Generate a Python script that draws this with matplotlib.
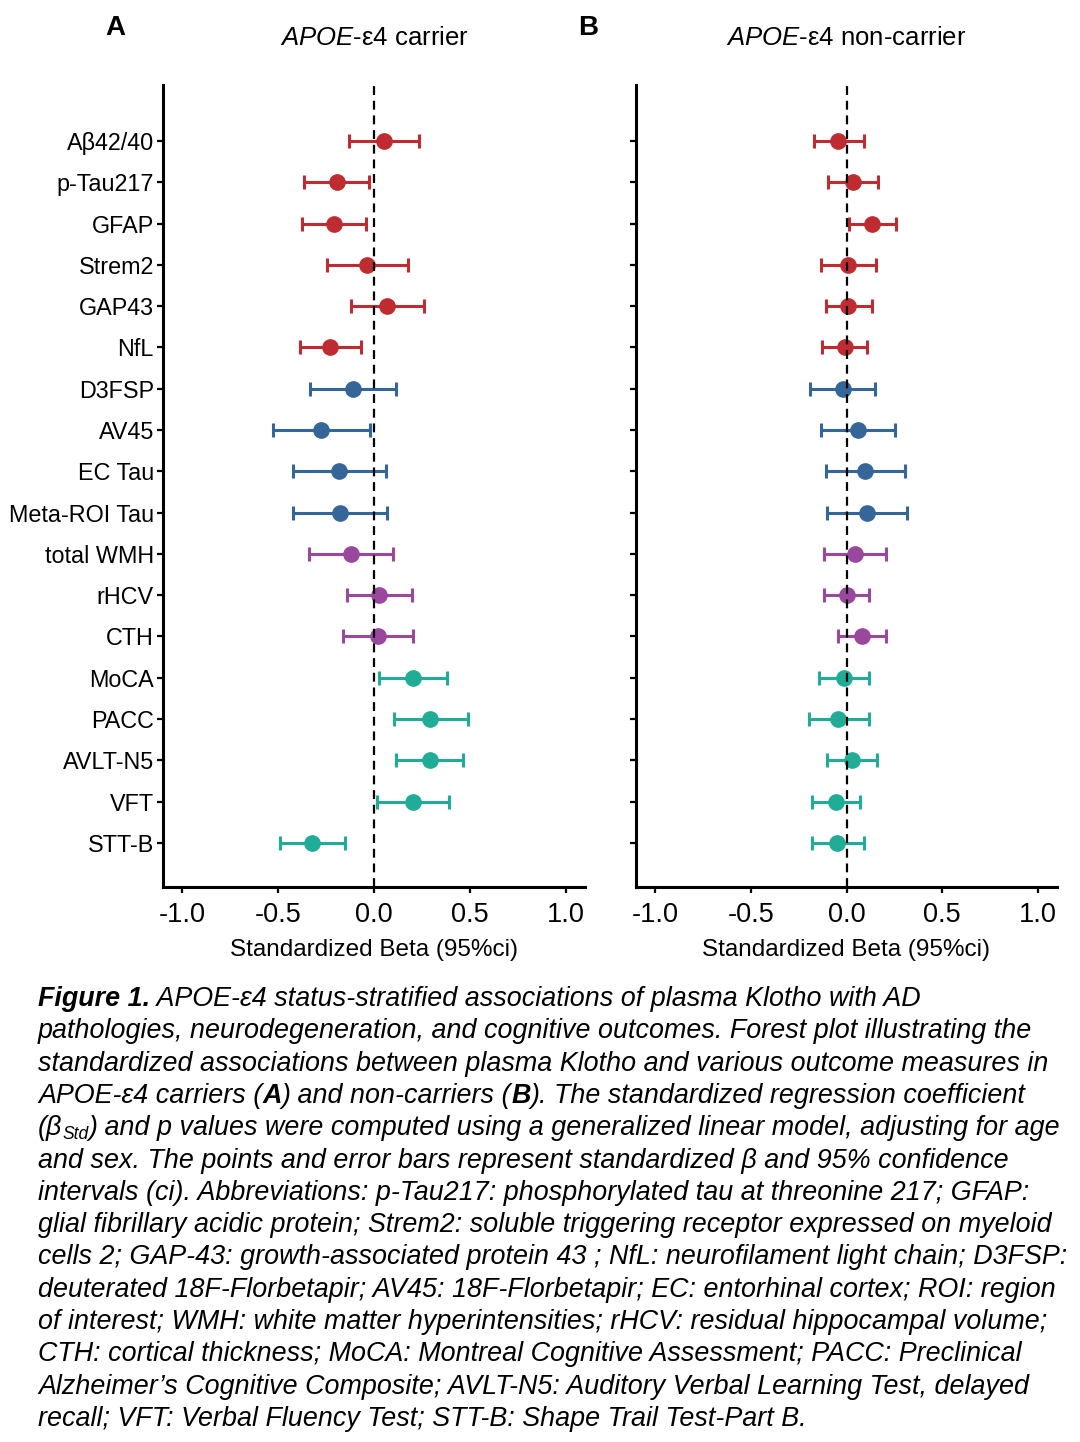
import matplotlib
matplotlib.use("Agg")
import matplotlib.pyplot as plt
import numpy as np

plt.rcParams['font.family'] = ['Liberation Sans', 'DejaVu Sans']
plt.rcParams['mathtext.fontset'] = 'custom'
plt.rcParams['mathtext.it'] = 'Liberation Sans:italic'
plt.rcParams['mathtext.rm'] = 'Liberation Sans'

# datos
outcomes = ["Aβ42/40", "p-Tau217", "GFAP", "Strem2", "GAP43", "NfL",
            "D3FSP", "AV45", "EC Tau", "Meta-ROI Tau",
            "total WMH", "rHCV", "CTH",
            "MoCA", "PACC", "AVLT-N5", "VFT", "STT-B"]
groups = ["plasma"] * 6 + ["pet"] * 4 + ["mri"] * 3 + ["cog"] * 5

carrier_beta = [0.052, -0.194, -0.211, -0.035, 0.066, -0.229, -0.111, -0.274, -0.180,
                -0.178, -0.121, 0.028, 0.021, 0.203, 0.294, 0.291, 0.203, -0.322]
carrier_lo = [-0.130, -0.364, -0.376, -0.243, -0.121, -0.388, -0.336, -0.525, -0.421,
              -0.424, -0.339, -0.142, -0.161, 0.026, 0.102, 0.116, 0.014, -0.492]
carrier_hi = [0.234, -0.026, -0.043, 0.178, 0.260, -0.068, 0.114, -0.021, 0.062,
              0.069, 0.099, 0.197, 0.203, 0.378, 0.488, 0.464, 0.393, -0.152]

noncarrier_beta = [-0.042, 0.033, 0.134, 0.010, 0.010, -0.010, -0.019, 0.059, 0.099,
                   0.106, 0.045, 0.000, 0.082, -0.014, -0.042, 0.028, -0.056, -0.048]
noncarrier_lo = [-0.172, -0.097, 0.012, -0.132, -0.109, -0.127, -0.189, -0.132, -0.108,
                 -0.103, -0.115, -0.120, -0.045, -0.146, -0.196, -0.102, -0.178, -0.182]
noncarrier_hi = [0.094, 0.163, 0.257, 0.156, 0.134, 0.106, 0.151, 0.255, 0.306,
                 0.314, 0.207, 0.120, 0.207, 0.116, 0.120, 0.158, 0.068, 0.089]

colors = {"plasma": "#BE2B30", "pet": "#346699", "mri": "#9A489E", "cog": "#20AC96"}
xticks = [-1.0, -0.5, 0.0, 0.5, 1.0]
xtick_labels = ["-1.0", "-0.5", "0.0", "0.5", "1.0"]

fig = plt.figure(figsize=(10.8, 14.42), dpi=100)
W, H = 1080, 1442


def panel(rect, beta, lo, hi, title, show_labels):
    ax = fig.add_axes(rect)
    beta = np.array(beta)
    lo = np.array(lo)
    hi = np.array(hi)
    ypos = np.arange(len(outcomes))
    for g in colors:
        idx = np.array([i for i, gg in enumerate(groups) if gg == g])
        ax.errorbar(beta[idx], ypos[idx], xerr=[beta[idx] - lo[idx], hi[idx] - beta[idx]],
                    fmt='o', color=colors[g], ms=11, elinewidth=2.2, capsize=5,
                    capthick=2.2, zorder=3)
    ax.axvline(0, color='black', ls=(0, (4, 2.6)), lw=1.6, zorder=5)
    ax.set_xlim(-1.1, 1.1)
    ax.set_ylim(18.07, -1.356)
    ax.set_yticks(ypos)
    if show_labels:
        ax.set_yticklabels(outcomes, fontsize=16.8)
    else:
        ax.set_yticklabels([])
    ax.set_xticks(xticks)
    ax.set_xticklabels(xtick_labels, fontsize=19.5)
    ax.set_xlabel("Standardized Beta (95%ci)", fontsize=17.5, labelpad=8)
    for s in ['top', 'right']:
        ax.spines[s].set_visible(False)
    for s in ['left', 'bottom']:
        ax.spines[s].set_linewidth(2.2)
    ax.tick_params(axis='y', width=1.6, length=4.5, pad=2, colors='black')
    ax.tick_params(axis='x', width=1.6, length=4.5, pad=6, colors='black')
    cx = rect[0] + rect[2] / 2
    fig.text(cx, 1 - 38 / H, title, ha='center', va='center', fontsize=18.5)
    return ax


panel([163 / W, 1 - 887 / H, 422 / W, 802 / H], carrier_beta, carrier_lo, carrier_hi,
      r"$\mathit{APOE}$-ε4 carrier", True)
panel([636 / W, 1 - 887 / H, 421 / W, 802 / H], noncarrier_beta, noncarrier_lo, noncarrier_hi,
      r"$\mathit{APOE}$-ε4 non-carrier", False)
fig.text(115 / W, 1 - 28 / H, "A", fontsize=20, weight='bold', ha='center', va='center')
fig.text(588 / W, 1 - 28 / H, "B", fontsize=20, weight='bold', ha='center', va='center')

# leyenda de la figura, linea por linea
caption = [
    [("Figure 1.", "b"), (" APOE-ε4 status-stratified associations of plasma Klotho with AD", "i")],
    [("pathologies, neurodegeneration, and cognitive outcomes. Forest plot illustrating the", "i")],
    [("standardized associations between plasma Klotho and various outcome measures in", "i")],
    [("APOE-ε4 carriers (", "i"), ("A", "b"), (") and non-carriers (", "i"), ("B", "b"),
     ("). The standardized regression coefficient", "i")],
    [("(β", "i"), ("Std", "sub"), (") and p values were computed using a generalized linear model, adjusting for age", "i")],
    [("and sex. The points and error bars represent standardized β and 95% confidence", "i")],
    [("intervals (ci). Abbreviations: p-Tau217: phosphorylated tau at threonine 217; GFAP:", "i")],
    [("glial fibrillary acidic protein; Strem2: soluble triggering receptor expressed on myeloid", "i")],
    [("cells 2; GAP-43: growth-associated protein 43 ; NfL: neurofilament light chain; D3FSP:", "i")],
    [("deuterated 18F-Florbetapir; AV45: 18F-Florbetapir; EC: entorhinal cortex; ROI: region", "i")],
    [("of interest; WMH: white matter hyperintensities; rHCV: residual hippocampal volume;", "i")],
    [("CTH: cortical thickness; MoCA: Montreal Cognitive Assessment; PACC: Preclinical", "i")],
    [("Alzheimer’s Cognitive Composite; AVLT-N5: Auditory Verbal Learning Test, delayed", "i")],
    [("recall; VFT: Verbal Fluency Test; STT-B: Shape Trail Test-Part B.", "i")],
]

renderer = fig.canvas.get_renderer()
cap_size = 19.4


def run_width(s, **kw):
    t = fig.text(0, 0, "X" + s + "X", **kw)
    w1 = t.get_window_extent(renderer).width
    t.set_text("XX")
    w2 = t.get_window_extent(renderer).width
    t.remove()
    return w1 - w2


for k, line in enumerate(caption):
    x = 38.0
    y = 1006 + k * 32.3
    for txt, kind in line:
        kw = dict(style='italic', fontsize=cap_size)
        yy = y
        if kind == "b":
            kw['weight'] = 'bold'
        if kind == "sub":
            kw['fontsize'] = cap_size * 0.65
            yy = y + 4
        fig.text(x / W, 1 - yy / H, txt, va='baseline', ha='left', **kw)
        x += run_width(txt, **kw)

fig.savefig("out.png", dpi=100)
